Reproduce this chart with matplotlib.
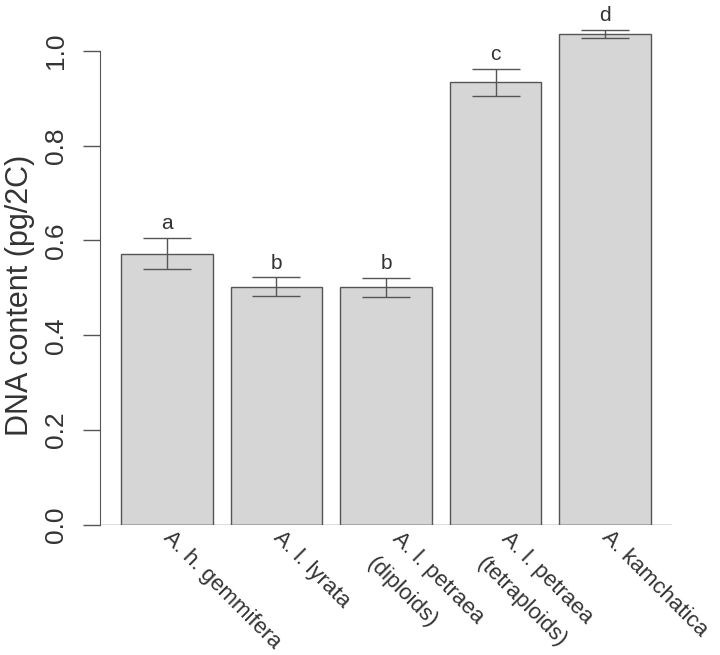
import numpy as np
import matplotlib
matplotlib.use("Agg")
import matplotlib.pyplot as plt
from matplotlib.transforms import offset_copy

# data
species = ["A. h. gemmifera", "A. l. lyrata", "A. l. petraea\n(diploids)",
           "A. l. petraea\n(tetraploids)", "A. kamchatica"]
dna = [0.572, 0.502, 0.501, 0.933, 1.035]
se = [0.033, 0.020, 0.020, 0.028, 0.009]
groups = ["a", "b", "b", "c", "d"]

plt.rcParams["font.family"] = ["Liberation Sans", "DejaVu Sans"]
txt = "#333333"
edge = "#555555"

fig = plt.figure(figsize=(7.2, 6.55), dpi=100)
ax = fig.add_axes([0.1389, 0.1985, 0.7944, 0.7893])

# R barplot layout: width 1, space 0.2
x = 0.7 + 1.2 * np.arange(len(dna))
ax.bar(x, dna, width=1.0, color="#d6d6d6", edgecolor=edge, linewidth=1.0, zorder=2)
ax.errorbar(x, dna, yerr=se, fmt="none", ecolor=edge, elinewidth=1.0,
            capsize=17, capthick=1.0, zorder=3)

for xi, m, s, g in zip(x, dna, se, groups):
    ax.text(xi, m + s + 0.03, g, ha="center", va="center", fontsize=15, color=txt)

ax.set_xlim(0.2 - 0.232, 6.0 + 0.232)
ax.set_ylim(0, 1.09)

for side in ["top", "right", "bottom"]:
    ax.spines[side].set_visible(False)
ax.spines["left"].set_bounds(0, 1.0)
ax.spines["left"].set_color(edge)
ax.axhline(0, color=edge, linewidth=1.0, zorder=4)

ax.set_yticks(np.arange(0, 1.01, 0.2))
ax.set_yticklabels(["%.1f" % v for v in np.arange(0, 1.01, 0.2)],
                   rotation=90, va="center", fontsize=19, color=txt)
ax.tick_params(axis="y", length=12, width=1.0, color=edge, pad=11)
ax.set_xticks([])
ax.set_ylabel("DNA content (pg/2C)", fontsize=22, color=txt)
ax.yaxis.set_label_coords(-0.113, 0.445)

# two-line names sit a little right of the single-line ones
shifted = offset_copy(ax.transData, fig=fig, x=12, y=4.5, units="points")
for xi, lab in zip(x, species):
    multi = "\n" in lab
    ax.text(xi, -0.02, lab, rotation=-45, rotation_mode="anchor",
            ha="left", va="top" if multi else "center", fontsize=16,
            color=txt, linespacing=1.9,
            transform=shifted if multi else ax.transData, clip_on=False)

fig.savefig("out.png", dpi=100)
